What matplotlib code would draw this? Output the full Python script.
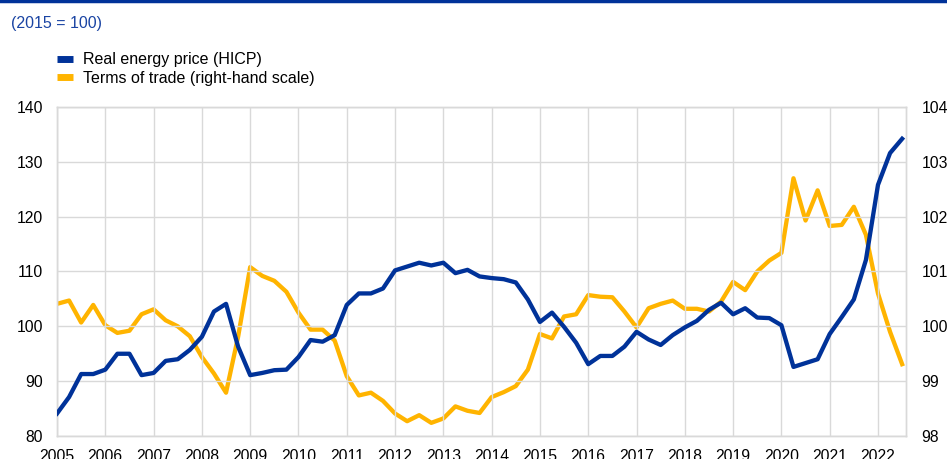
import numpy as np
import matplotlib.pyplot as plt
from matplotlib.lines import Line2D

plt.rcParams['font.family'] = ['Liberation Sans', 'DejaVu Sans']

# quarterly observations, 2005 Q1 to 2022 Q3
quarters = np.arange(2005.0, 2022.51, 0.25)

energy_price = [
    84.1, 87.1, 91.3, 91.3, 92.1, 95.0, 95.0, 91.1,
    91.5, 93.7, 94.0, 95.7, 98.1, 102.7, 104.1, 96.3,
    91.1, 91.5, 92.0, 92.1, 94.4, 97.5, 97.2, 98.4,
    103.9, 106.0, 106.0, 106.9, 110.2, 110.9, 111.6, 111.1,
    111.6, 109.7, 110.3, 109.1, 108.8, 108.6, 108.0, 104.9,
    100.8, 102.5, 99.9, 97.0, 93.1, 94.6, 94.6, 96.3,
    99.0, 97.6, 96.6, 98.4, 99.8, 101.0, 103.0, 104.3,
    102.2, 103.3, 101.6, 101.5, 100.2, 92.6, 93.3, 94.0,
    98.6, 101.7, 104.9, 112.1, 125.8, 131.6, 134.2,
]

terms_of_trade = [
    100.41, 100.47, 100.07, 100.39, 100.02, 99.88, 99.92, 100.22,
    100.31, 100.11, 100.00, 99.82, 99.44, 99.14, 98.79, 99.81,
    101.08, 100.92, 100.83, 100.63, 100.25, 99.94, 99.94, 99.74,
    99.09, 98.74, 98.79, 98.64, 98.41, 98.27, 98.38, 98.24,
    98.32, 98.54, 98.46, 98.42, 98.71, 98.80, 98.91, 99.21,
    99.86, 99.78, 100.18, 100.22, 100.57, 100.54, 100.53, 100.27,
    99.98, 100.33, 100.41, 100.47, 100.32, 100.32, 100.27, 100.45,
    100.81, 100.66, 101.00, 101.20, 101.34, 102.70, 101.93, 102.48,
    101.83, 101.85, 102.18, 101.67, 100.60, 99.90, 99.31,
]

years = list(range(2005, 2023))
left_ticks = [80, 90, 100, 110, 120, 130, 140]
right_ticks = [98, 99, 100, 101, 102, 103, 104]

blue = '#003299'
yellow = '#FFB400'
grid_c = '#d9d9d9'

fig = plt.figure(figsize=(9.47, 4.59), dpi=100)
ax = fig.add_axes([0.0602, 0.0501, 0.8965, 0.7168])
ax2 = ax.twinx()

ax.plot(quarters, energy_price, color=blue, lw=3.1, solid_joinstyle='round', zorder=3)
ax2.plot(quarters, terms_of_trade, color=yellow, lw=3.1, solid_joinstyle='round', zorder=3)

ax.set_xlim(2005, 2022.58)
ax.set_ylim(80, 140)
ax2.set_ylim(98, 104)
ax.set_xticks(years)
ax.set_xticklabels([str(y) for y in years])
ax.set_yticks(left_ticks)
ax2.set_yticks(right_ticks)

ax.grid(True, color=grid_c, lw=1)
ax.set_axisbelow(True)
for a in (ax, ax2):
    for s in a.spines.values():
        s.set_color(grid_c)
        s.set_linewidth(1)
    a.tick_params(length=0, labelsize=11.3, colors='#000000')
ax.tick_params(axis='x', pad=9)
ax.tick_params(axis='y', pad=10)
ax2.tick_params(axis='y', pad=11)

# put the blue line above the yellow one's axes
ax.set_zorder(ax2.get_zorder() + 1)
ax.patch.set_visible(False)

# header
fig.add_artist(Line2D([0, 1], [0.997, 0.997], color=blue, lw=2.5))
fig.text(0.012, 0.948, '(2015 = 100)', color='#1a44a3', fontsize=11.5, va='center')

handles = [Line2D([], [], color=blue, lw=5, solid_capstyle='butt'),
           Line2D([], [], color=yellow, lw=5, solid_capstyle='butt')]
fig.legend(handles, ['Real energy price (HICP)', 'Terms of trade (right-hand scale)'],
           loc='upper left', bbox_to_anchor=(0.0602, 0.886), frameon=False,
           fontsize=11.5, handlelength=1.0, handletextpad=0.62, labelspacing=0.22,
           borderaxespad=0, borderpad=0)

fig.savefig('out.png', dpi=100)
